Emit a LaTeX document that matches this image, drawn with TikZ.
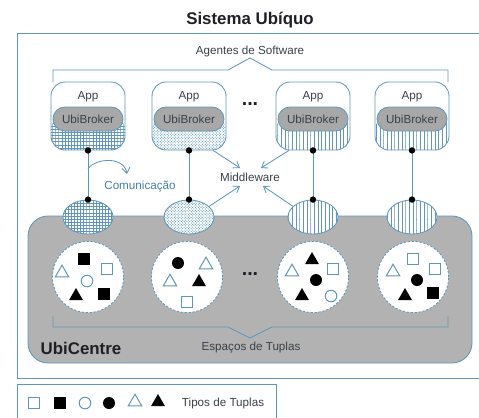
\documentclass[tikz,border=0pt]{standalone}
\usepackage{fontspec}
\setmainfont{Liberation Sans}
\usetikzlibrary{arrows.meta,patterns,patterns.meta,shapes.geometric}
\definecolor{lineblue}{RGB}{96,150,184}
\definecolor{commblue}{RGB}{70,125,165}
\definecolor{textgray}{RGB}{58,64,74}
\definecolor{titleblack}{RGB}{30,32,38}
\definecolor{centregray}{RGB}{178,178,178}
\definecolor{brokergray}{RGB}{168,168,168}
\tikzdeclarepattern{
  name=finegrid, type=uncolored,
  bottom left={(-0.2pt,-0.2pt)}, top right={(2.4pt,2.4pt)},
  tile size={(2.2pt,2.2pt)},
  code={\draw[line width=0.4pt] (0,0) -- (2.2pt,0) (0,0) -- (0,2.2pt);}
}
\tikzdeclarepattern{
  name=finedots, type=uncolored,
  bottom left={(-0.5pt,-0.5pt)}, top right={(2.5pt,2.5pt)},
  tile size={(2pt,2pt)},
  code={\fill (0,0) circle (0.42pt); \fill (1pt,1pt) circle (0.42pt);}
}
\tikzdeclarepattern{
  name=finevlines, type=uncolored,
  bottom left={(-0.3pt,-0.1pt)}, top right={(2.9pt,2.7pt)},
  tile size={(2.6pt,2.6pt)},
  code={\draw[line width=0.45pt] (0,-0.1pt) -- (0,2.7pt);}
}
\tikzset{
  appbox/.style={draw=lineblue, line width=0.6pt, rounded corners=3.5mm,
    minimum width=18.5mm, minimum height=17mm, inner sep=0pt,
    path picture={\fill[pattern=#1, pattern color=lineblue]
      (path picture bounding box.west) rectangle (path picture bounding box.south east);}},
  broker/.style={draw=lineblue, line width=0.6pt, fill=brokergray, rounded corners=3mm,
    minimum width=17.5mm, minimum height=6mm, inner sep=0pt},
  hole/.style={ellipse, draw=lineblue, line width=0.6pt, minimum width=12.5mm,
    minimum height=8.5mm, inner sep=0pt, preaction={fill=white}, pattern=#1, pattern color=lineblue},
  space/.style={circle, draw=lineblue, fill=white, line width=0.6pt,
    dash pattern=on 1.6pt off 1.2pt, minimum size=17.8mm, inner sep=0pt},
  dot/.style={circle, fill=black, minimum size=1.6mm, inner sep=0pt},
  link/.style={draw=lineblue, line width=0.6pt},
  mwarrow/.style={draw=lineblue, line width=0.6pt, -{Straight Barb[length=1.4mm,width=2mm]}},
  osq/.style={draw=lineblue, line width=0.7pt, fill=white, minimum size=2.7mm, inner sep=0pt},
  fsq/.style={fill=black, minimum size=3mm, inner sep=0pt},
  ocirc/.style={circle, draw=lineblue, line width=0.7pt, minimum size=2.9mm, inner sep=0pt},
  fcirc/.style={circle, fill=black, minimum size=3mm, inner sep=0pt},
  otri/.style={regular polygon, regular polygon sides=3, draw=lineblue, line width=0.7pt,
    minimum size=3.9mm, inner sep=0pt},
  ftri/.style={regular polygon, regular polygon sides=3, fill=black, minimum size=4mm, inner sep=0pt},
  bigtext/.style={font=\fontsize{12}{14}\selectfont\bfseries, text=titleblack}
}

\begin{document}
\begin{tikzpicture}[x=0.25mm, y=-0.25mm, text=textgray,
    font=\fontsize{8.3}{10}\selectfont]
  \useasboundingbox (0,0) rectangle (479,417);
  \clip (0,0) rectangle (479,417);

  % frames
  \node[bigtext] (title) at (250,20) {Sistema Ubíquo};
  \draw[lineblue, line width=0.6pt] (17,33) rectangle (490,378);
  \draw[lineblue, line width=0.6pt] (17,384) rectangle (276,430);

  % agents
  \node (agents) at (250,51) {Agentes de Software};
  \draw[link] (53,82) -- (53,70) -- (228,70) -- (250,58) -- (272,70) -- (448,70) -- (448,82);

  \node[appbox=finegrid] (app1) at (88,116) {};
  \node[appbox=finedots] (app2) at (189,116) {};
  \node[appbox=finevlines] (app3) at (313,116) {};
  \node[appbox=finevlines] (app4) at (412,116) {};

  \node (app1t) at (88,97) {App};
  \node (app2t) at (189,97) {App};
  \node (app3t) at (313,97) {App};
  \node (app4t) at (412,97) {App};

  \node[broker] (ub1) at (88,119) {UbiBroker};
  \node[broker] (ub2) at (189,119) {UbiBroker};
  \node[broker] (ub3) at (313,119) {UbiBroker};
  \node[broker] (ub4) at (412,119) {UbiBroker};

  \node[font=\fontsize{14}{14}\selectfont\bfseries, text=titleblack] (dotsA) at (250,104) {...};

  % UbiCentre
  \draw[lineblue, line width=0.6pt, fill=centregray, rounded corners=5mm] (28,216) rectangle (472,363);

  \node[hole=finegrid] (e1) at (88,217) {};
  \node[hole=finedots] (e2) at (189,217) {};
  \node[hole=finevlines] (e3) at (313,217) {};
  \node[hole=finevlines] (e4) at (412,217) {};

  \draw[link] (app1.south) -- (e1.north) coordinate[pos=0.37] (comm);
  \draw[link] (app2.south) -- (e2.north);
  \draw[link] (app3.south) -- (e3.north);
  \draw[link] (app4.south) -- (e4.north);

  \node[dot] (d1a) at (app1.south) {};
  \node[dot] (d2a) at (app2.south) {};
  \node[dot] (d3a) at (app3.south) {};
  \node[dot] (d4a) at (app4.south) {};
  \node[dot] (d1b) at (e1.north) {};
  \node[dot] (d2b) at (e2.north) {};
  \node[dot] (d3b) at (e3.north) {};
  \node[dot] (d4b) at (e4.north) {};

  % middleware and communication
  \node (mw) at (250,177) {Middleware};
  \draw[mwarrow] (app2.-55) -- ([shift={(-10,-9)}]mw.center);
  \draw[mwarrow] (app3.-125) -- ([shift={(11,-9)}]mw.center);
  \draw[mwarrow] (e2.28) -- ([shift={(-10,9)}]mw.center);
  \draw[mwarrow] (e3.152) -- ([shift={(13,9)}]mw.center);

  \node[text=commblue] (commt) at (140,187) {Comunicação};
  \draw[mwarrow] (comm) .. controls (96,158) and (124,156) .. (127,174);

  % tuple spaces
  \node[space] (s1) at (88,277) {};
  \node[space] (s2) at (187,277) {};
  \node[space] (s3) at (313,277) {};
  \node[space] (s4) at (413,277) {};

  \node[fsq] (s1a) at ([shift={(-4,-18)}]s1) {};
  \node[otri] (s1b) at ([shift={(-26,-4)}]s1) {};
  \node[osq] (s1c) at ([shift={(19,-8)}]s1) {};
  \node[ocirc] (s1d) at ([shift={(-1,4)}]s1) {};
  \node[ftri] (s1e) at ([shift={(-12,19)}]s1) {};
  \node[fsq] (s1f) at ([shift={(16,17)}]s1) {};

  \node[fcirc] (s2a) at ([shift={(-9,-14)}]s2) {};
  \node[otri] (s2b) at ([shift={(19,-12)}]s2) {};
  \node[otri] (s2c) at ([shift={(-17,5)}]s2) {};
  \node[ftri] (s2d) at ([shift={(12,5)}]s2) {};
  \node[osq] (s2e) at ([shift={(0,25)}]s2) {};

  \node[ftri] (s3a) at ([shift={(-1,-17)}]s3) {};
  \node[otri] (s3b) at ([shift={(-21,-5)}]s3) {};
  \node[osq] (s3c) at ([shift={(20,-8)}]s3) {};
  \node[fcirc] (s3d) at ([shift={(3,3)}]s3) {};
  \node[ftri] (s3e) at ([shift={(-11,19)}]s3) {};
  \node[ocirc] (s3f) at ([shift={(18,19)}]s3) {};

  \node[osq] (s4a) at ([shift={(0,-18)}]s4) {};
  \node[otri] (s4b) at ([shift={(-20,-5)}]s4) {};
  \node[osq] (s4c) at ([shift={(22,-8)}]s4) {};
  \node[fcirc] (s4d) at ([shift={(4,3)}]s4) {};
  \node[ftri] (s4e) at ([shift={(-8,19)}]s4) {};
  \node[fsq] (s4f) at ([shift={(20,16)}]s4) {};

  \node[font=\fontsize{14}{14}\selectfont\bfseries, text=titleblack] (dotsB) at (250,274) {...};

  \draw[link] (53,316) -- (53,327) -- (228,327) -- (250,338) -- (272,327) -- (448,327) -- (448,316);
  \node (spaces) at (251,347) {Espaços de Tuplas};
  \node[bigtext] (centre) at (81,348) {UbiCentre};

  % legend
  \node[osq] (l1) at (34,403) {};
  \node[fsq] (l2) at (60,403) {};
  \node[ocirc] (l3) at (85,403) {};
  \node[fcirc] (l4) at (109,403) {};
  \node[otri] (l5) at (135,402) {};
  \node[ftri] (l6) at (158,402) {};
  \node[anchor=west] (types) at (177,403) {Tipos de Tuplas};
\end{tikzpicture}
\end{document}
